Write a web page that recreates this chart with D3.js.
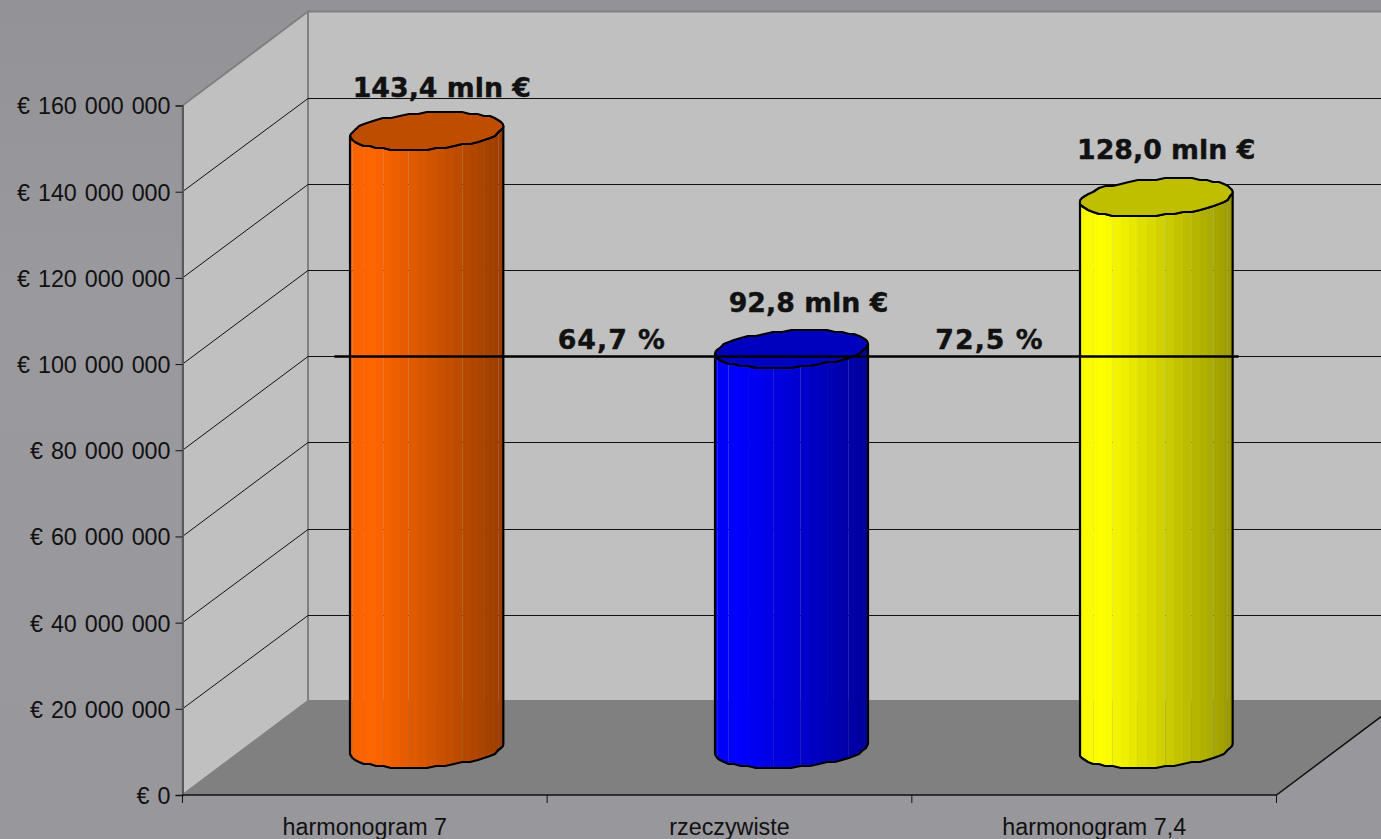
<!DOCTYPE html>
<html>
<head>
<meta charset="utf-8">
<script src="https://cdn.jsdelivr.net/npm/d3@7"></script>
<style>
  body { margin: 0; background: #98979c; overflow: hidden; }
  svg { display: block; }
</style>
</head>
<body>
<script>
// Data
const categories = ['harmonogram 7', 'rzeczywiste', 'harmonogram 7,4']
const values = [143400000, 92800000, 128000000]
const barLabels = ['143,4 mln €', '92,8 mln €', '128,0 mln €']
const barColors = [[255, 102, 0], [0, 0, 255], [255, 255, 0]]
const axisTicks = [0, 20000000, 40000000, 60000000, 80000000, 100000000, 120000000, 140000000, 160000000]
const targetValue = 92800000
const percentLabels = ['64,7 %', '72,5 %']

const width = 1381
const height = 839

// Plot box
const left = 182.5
const right = 1276.5
const bottom = 795
const top_ = 105.5
const depthX = 125.5
const depthY = 94

const svg = d3.select('body')
  .append('svg')
  .attr('width', width)
  .attr('height', height)

const bg = svg.append('defs')
  .append('linearGradient')
  .attr('id', 'bg')
  .attr('x1', 0).attr('y1', 0).attr('x2', 0).attr('y2', 1)
bg.append('stop').attr('offset', 0).attr('stop-color', '#939297')
bg.append('stop').attr('offset', 0.35).attr('stop-color', '#9a999e')
bg.append('stop').attr('offset', 1).attr('stop-color', '#98979c')
svg.append('rect')
  .attr('width', width)
  .attr('height', height)
  .attr('fill', 'url(#bg)')

// Scales
const yScale = d3.scaleLinear()
  .domain([0, 160000000])
  .range([bottom, top_])
const xScale = d3.scaleBand()
  .domain(categories)
  .range([left, right])

const poly = pts => pts.map(p => p.join(',')).join(' ')

// Walls and floor
svg.append('polygon')
  .attr('points', poly([[left + depthX, yScale(160000000) - depthY], [width + 30, yScale(160000000) - depthY], [width + 30, bottom - depthY], [left + depthX, bottom - depthY]]))
  .attr('fill', '#c0c0c0')
  .attr('stroke', '#808080')
  .attr('stroke-width', 2)
svg.append('polygon')
  .attr('points', poly([[left, yScale(160000000)], [left + depthX, yScale(160000000) - depthY], [left + depthX, bottom - depthY], [left, bottom]]))
  .attr('fill', '#c0c0c0')
  .attr('stroke', '#808080')
  .attr('stroke-width', 2)
svg.append('polygon')
  .attr('points', poly([[left, bottom], [left + depthX, bottom - depthY], [right + depthX, bottom - depthY], [right, bottom]]))
  .attr('fill', '#808080')

// Gridlines
const gridTicks = axisTicks.filter(d => d > 0 && d < 160000000)
const backY = d => Math.round(yScale(d) - depthY) + 0.5
svg.append('g')
  .selectAll('path')
  .data(gridTicks)
  .enter()
  .append('path')
  .attr('d', d => `M${left},${yScale(d)}L${left + depthX},${backY(d)}L${width + 30},${backY(d)}`)
  .attr('fill', 'none')
  .attr('stroke', '#111')
  .attr('stroke-width', 1)

// Axes
const yAxis = d3.axisLeft(yScale)
  .tickValues(axisTicks)
  .tickSize(7)
  .tickPadding(5)
  .tickFormat(d => '€ ' + d3.format(',')(d).replace(/,/g, ' '))
const yG = svg.append('g')
  .attr('transform', `translate(${left}, 0)`)
  .call(yAxis)
yG.select('.domain').attr('stroke', '#5a5a5a').attr('stroke-width', 2)
yG.selectAll('.tick line').attr('stroke', '#111')
yG.selectAll('text')
  .attr('font-family', 'Liberation Sans')
  .attr('font-size', 23.3)
  .attr('word-spacing', 1.5)
  .attr('y', 1)
  .attr('fill', '#111')

const xAxis = d3.axisBottom(xScale)
  .tickSize(0)
  .tickPadding(23)
const xG = svg.append('g')
  .attr('transform', `translate(0, ${bottom})`)
  .call(xAxis)
xG.select('.domain').remove()
xG.selectAll('text')
  .attr('font-family', 'Liberation Sans')
  .attr('font-size', 23.3)
  .attr('fill', '#111')

// Floor edges and category ticks
svg.append('path')
  .attr('d', `M${left},${bottom}L${right},${bottom}L${right + depthX},${bottom - depthY}`)
  .attr('fill', 'none')
  .attr('stroke', '#111')
  .attr('stroke-width', 1.5)
svg.append('g')
  .selectAll('line')
  .data(d3.range(categories.length + 1))
  .enter()
  .append('line')
  .attr('x1', i => left + i * xScale.step())
  .attr('x2', i => left + i * xScale.step())
  .attr('y1', bottom)
  .attr('y2', bottom + 8)
  .attr('stroke', '#111')

// Cylinders
const radiusX = 76.5
const tiltY = 5
const radiusY = 18.3
const facets = 26
const midX = depthX * 0.49 + 0.5
const midY = depthY * 0.49
const barCenter = i => xScale(categories[i]) + xScale.bandwidth() / 2 + midX

function rimPoint(cx, cy, t) {
  // coarse rounding gives the bumpy outline of the faceted cylinder,
  // only some facet edges stay off the pixel grid and show a seam
  const x = cx + radiusX * Math.cos(t)
  const seam = Math.round(t * facets / Math.PI) % 3 === 0
  return [
    seam ? x : Math.round(x),
    Math.round((cy - tiltY * Math.cos(t) + radiusY * Math.sin(t)) / 2) * 2
  ]
}

function shade(color, k) {
  return `rgb(${color.map(c => Math.round(c * k)).join(',')})`
}

categories.forEach((name, i) => {
  const cx = barCenter(i)
  const baseY = bottom - midY
  const topY = yScale(values[i]) - midY
  const group = svg.append('g')

  const angles = d3.range(facets + 1).map(j => Math.PI - j * Math.PI / facets)
  const brightness = d3.scaleLinear().domain([0, 0.15, 1]).range([0.97, 1, 0.6])

  group.selectAll('polygon.facet')
    .data(d3.pairs(angles))
    .enter()
    .append('polygon')
    .attr('class', 'facet')
    .attr('points', ([a, b]) => poly([rimPoint(cx, topY, a), rimPoint(cx, topY, b), rimPoint(cx, baseY, b), rimPoint(cx, baseY, a)]))
    .attr('fill', ([a, b]) => shade(barColors[i], brightness((Math.cos((a + b) / 2) + 1) / 2)))

  const outer = [...angles.map(t => rimPoint(cx, baseY, t)), ...angles.slice().reverse().map(t => rimPoint(cx, topY, t))]
  group.append('polygon')
    .attr('points', poly(outer))
    .attr('fill', 'none')
    .attr('stroke', '#000')
    .attr('stroke-width', 2.2)
    .attr('stroke-linejoin', 'round')

  const capAngles = d3.range(facets * 2).map(j => j * Math.PI / facets)
  group.append('polygon')
    .attr('points', poly(capAngles.map(t => rimPoint(cx, topY, t))))
    .attr('fill', shade(barColors[i], 0.75))
    .attr('stroke', '#000')
    .attr('stroke-width', 2.2)
    .attr('stroke-linejoin', 'round')
})

// Target line, sits a little behind the cylinder centres
const targetDepth = depthY * 0.41
svg.append('line')
  .attr('x1', barCenter(0) - radiusX - 16)
  .attr('x2', barCenter(2) + radiusX + 6)
  .attr('y1', yScale(targetValue) - targetDepth)
  .attr('y2', yScale(targetValue) - targetDepth)
  .attr('stroke', '#000')
  .attr('stroke-width', 2.5)

// Labels
const boldFont = 'DejaVu Sans'
svg.append('g')
  .selectAll('text')
  .data(barLabels)
  .enter()
  .append('text')
  .attr('x', (d, i) => barCenter(i) + [15, 17, 10][i])
  .attr('y', (d, i) => yScale(values[i]) - midY - [34, 37, 38][i])
  .attr('text-anchor', 'middle')
  .attr('font-family', boldFont)
  .attr('font-weight', 'bold')
  .attr('font-size', 26.8)
  .attr('fill', '#111')
  .attr('stroke', '#111')
  .attr('stroke-width', 0.4)
  .text(d => d)

svg.append('g')
  .selectAll('text')
  .data(percentLabels)
  .enter()
  .append('text')
  .attr('x', (d, i) => barCenter(i) + [185, 198][i])
  .attr('y', yScale(targetValue) - targetDepth - 8)
  .attr('text-anchor', 'middle')
  .attr('font-family', boldFont)
  .attr('font-weight', 'bold')
  .attr('font-size', 26.8)
  .attr('letter-spacing', 1)
  .attr('fill', '#111')
  .attr('stroke', '#111')
  .attr('stroke-width', 0.4)
  .text(d => d)
</script>
</body>
</html>
